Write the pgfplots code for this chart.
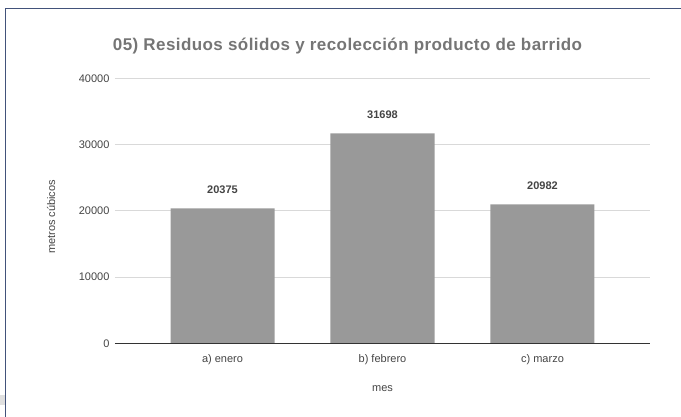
\documentclass[border=0pt]{standalone}
\usepackage{fontspec}
\setmainfont{Liberation Sans}
\newfontfamily\titlefont[LetterSpace=2.5]{Liberation Sans}
\usepackage{pgfplots}
\pgfplotsset{compat=1.18}
\definecolor{barcol}{HTML}{999999}
\definecolor{gridcol}{HTML}{D9D9D9}
\definecolor{textcol}{HTML}{444444}
\definecolor{titlecol}{HTML}{757575}
\definecolor{bordercol}{HTML}{42527A}
\begin{document}
\begin{tikzpicture}
\begin{axis}[
  scale only axis, width=535pt, height=265pt,
  xmin=-0.672, xmax=2.672, ymin=0, ymax=40000,
  ybar, bar width=104pt,
  axis line style={draw=none},
  tick style={draw=none},
  ymajorgrids, grid style={gridcol, line width=0.8pt},
  xtick={0,1,2}, xticklabels={a) enero, b) febrero, c) marzo},
  ytick={0,10000,20000,30000,40000},
  scaled y ticks=false,
  /pgf/number format/1000 sep={},
  /pgf/number format/assume math mode=true,
  ticklabel style={font=\fontsize{11}{13}\selectfont, text=textcol},
  yticklabel style={xshift=-2pt},
  xticklabel style={yshift=-3pt},
  xlabel={mes}, ylabel={metros cúbicos},
  xlabel style={at={(axis description cs:0.5,0)}, anchor=center, yshift=-45.7pt, font=\fontsize{11}{13}\selectfont, text=textcol},
  ylabel style={at={(axis description cs:-0.1196,0.477)}, anchor=center, font=\fontsize{11}{13}\selectfont, text=textcol},
  title={05) Residuos sólidos y recolección producto de barrido},
  title style={at={(axis description cs:0.4346,1.099)}, anchor=center, font=\titlefont\bfseries\fontsize{17}{20}\selectfont, text=titlecol},
  nodes near coords,
  every node near coord/.append style={font=\bfseries\fontsize{11}{13}\selectfont, text=textcol, yshift=11pt},
]
\addplot[fill=barcol, draw=none] coordinates {(0,20375) (1,31698) (2,20982)};
\draw[black!80, line width=0.8pt] (axis cs:-0.672,0) -- (axis cs:2.672,0);
\coordinate (O) at (rel axis cs:0,0);
\end{axis}
\pgfresetboundingbox
\path[use as bounding box] ([shift={(-115pt,-73.7pt)}]O) rectangle ([shift={(566pt,343.3pt)}]O);
\draw[bordercol, line width=0.8pt] ([shift={(-109.5pt,-73.7pt)}]O) -- ([shift={(-109.5pt,335.3pt)}]O) -- ([shift={(566pt,335.3pt)}]O);
\fill[black!12] ([shift={(-115pt,-61.7pt)}]O) rectangle ([shift={(-110pt,-51.7pt)}]O);
\end{tikzpicture}
\end{document}
